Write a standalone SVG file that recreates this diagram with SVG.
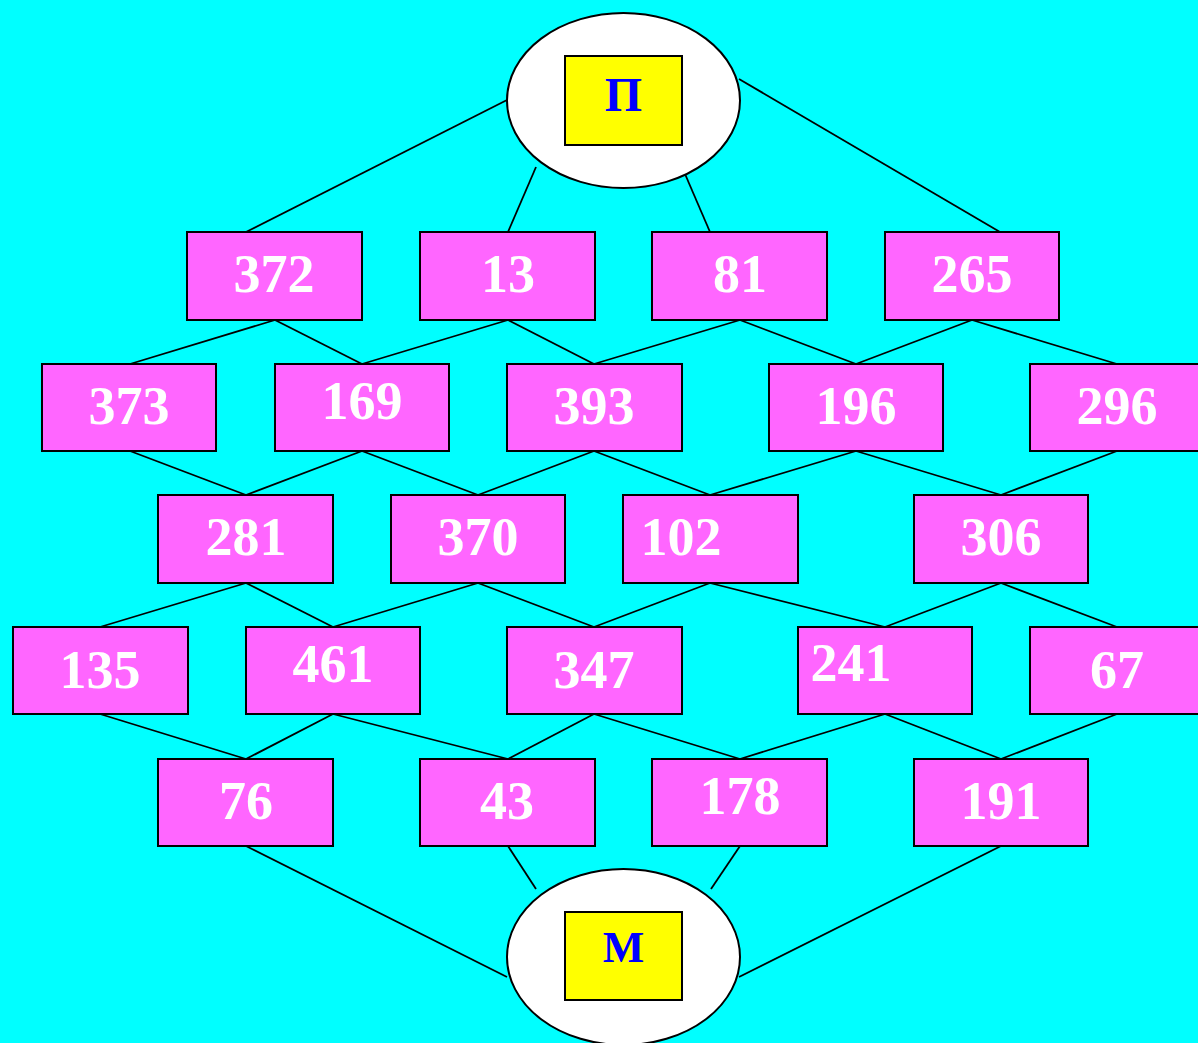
<svg xmlns="http://www.w3.org/2000/svg" width="1198" height="1043" viewBox="0 0 1198 1043">
<style>
.bg{fill:#00FFFF}
.ell{fill:#FFFFFF;stroke:#000;stroke-width:2}
.yb{fill:#FFFF00;stroke:#000;stroke-width:2}
.bx{fill:#FF66FF;stroke:#000;stroke-width:2}
.num{font-family:"Liberation Serif","Times New Roman",serif;font-weight:bold;font-size:54px;fill:#FFFFFF;text-anchor:middle}
.lt{font-family:"Liberation Serif","Times New Roman",serif;font-weight:bold;fill:#0000FF;text-anchor:middle}
#connectors line{stroke:#000;stroke-width:1.8}
</style>
<rect class="bg" x="0" y="0" width="1198" height="1043"/>
<g id="connectors">
<line x1="507" y1="100" x2="246" y2="232"/>
<line x1="536" y1="167" x2="508" y2="232"/>
<line x1="682" y1="167" x2="710" y2="232"/>
<line x1="739" y1="79" x2="1000" y2="232"/>
<line x1="275" y1="320" x2="130" y2="364"/>
<line x1="275" y1="320" x2="362" y2="364"/>
<line x1="508" y1="320" x2="362" y2="364"/>
<line x1="508" y1="320" x2="594" y2="364"/>
<line x1="740" y1="320" x2="594" y2="364"/>
<line x1="740" y1="320" x2="856" y2="364"/>
<line x1="972" y1="320" x2="856" y2="364"/>
<line x1="972" y1="320" x2="1117" y2="364"/>
<line x1="130" y1="451" x2="246" y2="495"/>
<line x1="362" y1="451" x2="246" y2="495"/>
<line x1="362" y1="451" x2="478" y2="495"/>
<line x1="594" y1="451" x2="478" y2="495"/>
<line x1="594" y1="451" x2="710" y2="495"/>
<line x1="856" y1="451" x2="710" y2="495"/>
<line x1="856" y1="451" x2="1001" y2="495"/>
<line x1="1117" y1="451" x2="1001" y2="495"/>
<line x1="246" y1="583" x2="100" y2="627"/>
<line x1="246" y1="583" x2="333" y2="627"/>
<line x1="478" y1="583" x2="333" y2="627"/>
<line x1="478" y1="583" x2="594" y2="627"/>
<line x1="710" y1="583" x2="594" y2="627"/>
<line x1="710" y1="583" x2="885" y2="627"/>
<line x1="1001" y1="583" x2="885" y2="627"/>
<line x1="1001" y1="583" x2="1117" y2="627"/>
<line x1="100" y1="714" x2="246" y2="759"/>
<line x1="333" y1="714" x2="246" y2="759"/>
<line x1="333" y1="714" x2="508" y2="759"/>
<line x1="594" y1="714" x2="508" y2="759"/>
<line x1="594" y1="714" x2="740" y2="759"/>
<line x1="885" y1="714" x2="740" y2="759"/>
<line x1="885" y1="714" x2="1001" y2="759"/>
<line x1="1117" y1="714" x2="1001" y2="759"/>
<line x1="246" y1="846" x2="507" y2="977"/>
<line x1="508" y1="846" x2="536" y2="889"/>
<line x1="740" y1="846" x2="711" y2="889"/>
<line x1="1001" y1="846" x2="739" y2="977"/>
</g>
<g id="node-P">
<ellipse class="ell" cx="623.5" cy="100.5" rx="116.5" ry="87.5"/>
<rect class="yb" x="565" y="56" width="117" height="89"/>
<text class="lt" x="623.5" y="111" font-size="48">П</text>
</g>
<g id="node-M">
<ellipse class="ell" cx="623.5" cy="957" rx="116.5" ry="88"/>
<rect class="yb" x="565" y="912" width="117" height="88"/>
<text class="lt" x="623.5" y="962" font-size="44">М</text>
</g>
<g id="n372"><rect class="bx" x="187" y="232" width="175" height="88"/><text class="num" x="274" y="292">372</text></g>
<g id="n13"><rect class="bx" x="420" y="232" width="175" height="88"/><text class="num" x="508" y="292">13</text></g>
<g id="n81"><rect class="bx" x="652" y="232" width="175" height="88"/><text class="num" x="740" y="292">81</text></g>
<g id="n265"><rect class="bx" x="885" y="232" width="174" height="88"/><text class="num" x="972" y="292">265</text></g>
<g id="n373"><rect class="bx" x="42" y="364" width="174" height="87"/><text class="num" x="129" y="424">373</text></g>
<g id="n169"><rect class="bx" x="275" y="364" width="174" height="87"/><text class="num" x="362" y="419">169</text></g>
<g id="n393"><rect class="bx" x="507" y="364" width="175" height="87"/><text class="num" x="594" y="424">393</text></g>
<g id="n196"><rect class="bx" x="769" y="364" width="174" height="87"/><text class="num" x="856" y="424">196</text></g>
<g id="n296"><rect class="bx" x="1030" y="364" width="174" height="87"/><text class="num" x="1117" y="424">296</text></g>
<g id="n281"><rect class="bx" x="158" y="495" width="175" height="88"/><text class="num" x="246" y="555">281</text></g>
<g id="n370"><rect class="bx" x="391" y="495" width="174" height="88"/><text class="num" x="478" y="555">370</text></g>
<g id="n102"><rect class="bx" x="623" y="495" width="175" height="88"/><text class="num" x="681" y="555">102</text></g>
<g id="n306"><rect class="bx" x="914" y="495" width="174" height="88"/><text class="num" x="1001" y="555">306</text></g>
<g id="n135"><rect class="bx" x="13" y="627" width="175" height="87"/><text class="num" x="100" y="688">135</text></g>
<g id="n461"><rect class="bx" x="246" y="627" width="174" height="87"/><text class="num" x="333" y="682">461</text></g>
<g id="n347"><rect class="bx" x="507" y="627" width="175" height="87"/><text class="num" x="594" y="688">347</text></g>
<g id="n241"><rect class="bx" x="798" y="627" width="174" height="87"/><text class="num" x="851" y="681">241</text></g>
<g id="n67"><rect class="bx" x="1030" y="627" width="174" height="87"/><text class="num" x="1117" y="688">67</text></g>
<g id="n76"><rect class="bx" x="158" y="759" width="175" height="87"/><text class="num" x="246" y="819">76</text></g>
<g id="n43"><rect class="bx" x="420" y="759" width="175" height="87"/><text class="num" x="507" y="819">43</text></g>
<g id="n178"><rect class="bx" x="652" y="759" width="175" height="87"/><text class="num" x="740" y="814">178</text></g>
<g id="n191"><rect class="bx" x="914" y="759" width="174" height="87"/><text class="num" x="1001" y="819">191</text></g>
</svg>
